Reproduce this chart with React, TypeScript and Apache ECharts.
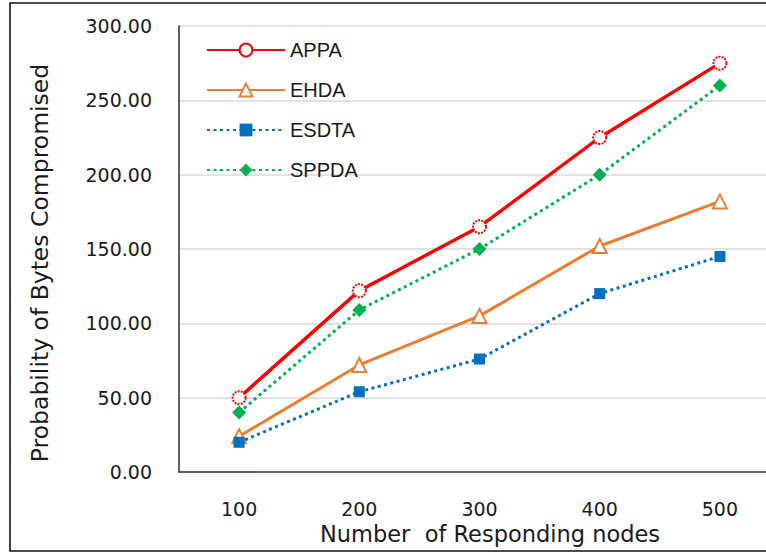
import React, { useEffect, useRef } from "react";
import * as echarts from "echarts";

const nodes = ["100", "200", "300", "400", "500"];
const appa = [50, 122, 165, 225, 275];
const ehda = [24, 72, 105, 152, 182];
const esdta = [20, 54, 76, 120, 145];
const sppda = [40, 109, 150, 200, 260];
const yTicks = { min: 0, max: 300, interval: 50 };

const xTitle = "Number  of Responding nodes";
const yTitle = "Probability of Bytes Compromised";

export default function App() {
  const ref = useRef<HTMLDivElement>(null);

  useEffect(() => {
    if (!ref.current) return;
    const chart = echarts.init(ref.current, null, { renderer: "svg" });
    const tickFont = { fontFamily: "DejaVu Sans", fontSize: 19, color: "#1a1a1a" };

    chart.setOption({
      animation: false,
      backgroundColor: "#ffffff",
      grid: { left: 179, top: 26, right: 20, bottom: 82, containLabel: false },
      legend: {
        orient: "vertical",
        left: 201,
        top: 35,
        itemWidth: 78,
        itemHeight: 16,
        itemGap: 20,
        textStyle: {
          fontFamily: "Liberation Sans",
          fontSize: 20,
          color: "#1a1a1a",
        },
        data: ["APPA", "EHDA", "ESDTA", "SPPDA"],
      },
      xAxis: {
        type: "category",
        data: nodes,
        boundaryGap: true,
        axisLine: { show: true, lineStyle: { color: "#3a3a3a", width: 1.6 } },
        axisTick: { show: false },
        axisLabel: { ...tickFont, margin: 27 },
        splitLine: { show: false },
      },
      yAxis: {
        type: "value",
        min: yTicks.min,
        max: yTicks.max,
        interval: yTicks.interval,
        axisLine: { show: true, lineStyle: { color: "#3a3a3a", width: 1.6 } },
        axisTick: { show: false },
        axisLabel: {
          ...tickFont,
          margin: 27,
          formatter: (v: number) => v.toFixed(2),
        },
        splitLine: { show: true, lineStyle: { color: "#d9d9d9", width: 1.6 } },
      },
      graphic: [
        {
          type: "rect",
          silent: true,
          shape: { x: 10, y: 3, width: 900, height: 548 },
          style: { fill: "none", stroke: "#111", lineWidth: 1.6 },
          z: 100,
        },
        {
          type: "text",
          x: 490,
          y: 534,
          style: {
            text: xTitle,
            fontFamily: "DejaVu Sans",
            fontSize: 22.5,
            fill: "#1a1a1a",
            textAlign: "center",
            textVerticalAlign: "middle",
          },
        },
        {
          type: "text",
          x: 40,
          y: 263,
          rotation: Math.PI / 2,
          style: {
            text: yTitle,
            fontFamily: "DejaVu Sans",
            fontSize: 23.5,
            fill: "#1a1a1a",
            textAlign: "center",
            textVerticalAlign: "middle",
          },
        },
      ],
      series: [
        {
          name: "APPA",
          type: "line",
          data: appa,
          symbol: "emptyCircle",
          symbolSize: 13,
          lineStyle: { color: "#ff0000", width: 3.4 },
          itemStyle: { color: "#ff0000", borderColor: "#ff0000", borderWidth: 1.6, borderType: [2, 1.2] },
          z: 5,
        },
        {
          name: "EHDA",
          type: "line",
          data: ehda,
          symbol: "emptyTriangle",
          symbolSize: 14,
          lineStyle: { color: "#ed7d31", width: 3 },
          itemStyle: { color: "#ed7d31", borderColor: "#ed7d31", borderWidth: 1.6 },
          z: 3,
        },
        {
          name: "ESDTA",
          type: "line",
          data: esdta,
          symbol: "rect",
          symbolSize: 11,
          lineStyle: { color: "#0070c0", width: 3, type: [3, 3.5] },
          itemStyle: { color: "#0070c0" },
          z: 4,
        },
        {
          name: "SPPDA",
          type: "line",
          data: sppda,
          symbol: "diamond",
          symbolSize: 14,
          lineStyle: { color: "#00b050", width: 3, type: [3, 3.5] },
          itemStyle: { color: "#00b050" },
          z: 4,
        },
      ],
    });

    return () => chart.dispose();
  }, []);

  return (
    <div
      style={{
        position: "fixed",
        left: 0,
        top: 0,
        width: 766,
        height: 554,
        overflow: "hidden",
        background: "#fff",
      }}
    >
      <div ref={ref} style={{ width: 800, height: 554 }} />
    </div>
  );
}
